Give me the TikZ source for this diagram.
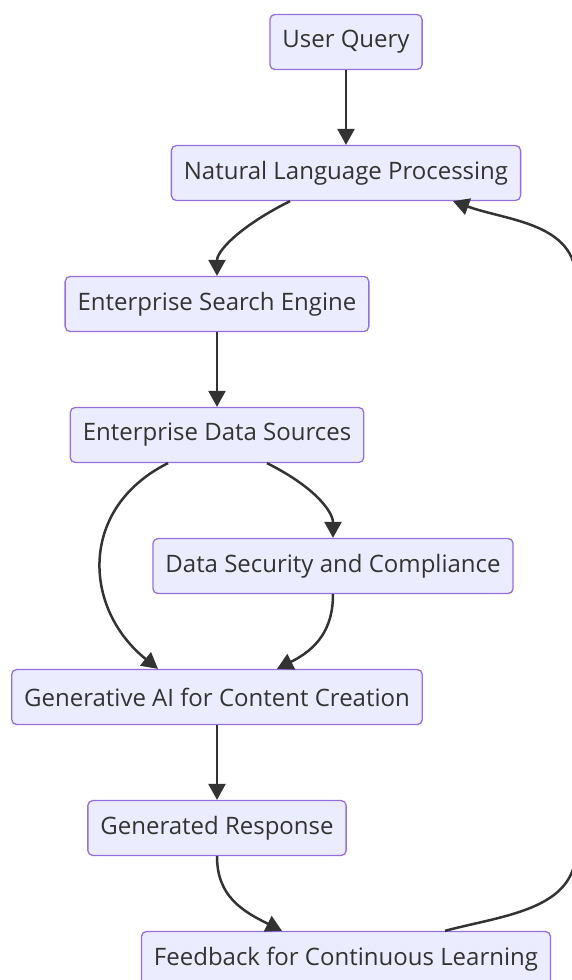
\documentclass[tikz,border=0pt]{standalone}
\usepackage{fontspec}
\setmainfont{Open Sans}
\usepackage{xcolor}
\usepackage{tikz}
\usetikzlibrary{arrows.meta, calc, positioning}

\definecolor{boxfill}{HTML}{ECECFF}
\definecolor{boxdraw}{HTML}{9370DB}
\definecolor{ink}{HTML}{333333}

\begin{document}
\begin{tikzpicture}[
    node distance=131pt,
    block/.style={rectangle, draw=boxdraw, fill=boxfill, line width=1.3pt, rounded corners=5pt, minimum height=55pt, inner xsep=12.5pt, text=ink, font=\fontsize{24}{28}\selectfont},
    line/.style={draw=ink, line width=2.5pt, -{Triangle[length=16pt, width=17pt]}}
]
    \useasboundingbox (0,0) rectangle (571pt,-980pt);

    % Nodes
    \node [block] (query) at (346pt,-42pt) {User Query};
    \node [block, below of=query] (nlp) {Natural Language Processing};
    \node [block, below of=nlp, xshift=-129pt] (search) {Enterprise Search Engine};
    \node [block, below of=search] (sources) {Enterprise Data Sources};
    \node [block, below of=sources, xshift=116pt] (security) {Data Security and Compliance};
    \node [block, below of=sources, node distance=262pt] (genai) {Generative AI for Content Creation};
    \node [block, below of=genai] (response) {Generated Response};
    \node [block, below of=response, xshift=129pt] (feedback) {Feedback for Continuous Learning};

    % Connections
    \draw [line] (query) -- (nlp);
    \draw [line] ([xshift=-56pt]nlp.south) .. controls +(-50pt,-25pt) and +(0,25pt) .. (search.north);
    \draw [line] (search) -- (sources);

    % Data sources split, then join at the generator
    \draw [line] ([xshift=-49pt]sources.south) .. controls +(-90pt,-45pt) and +(-75pt,60pt) .. ([xshift=-59pt]genai.north);
    \draw [line] ([xshift=50pt]sources.south) .. controls +(50pt,-25pt) and +(0,25pt) .. (security.north);
    \draw [line] (security.south) .. controls +(0,-35pt) and +(40pt,20pt) .. ([xshift=60pt]genai.north);

    \draw [line] (genai) -- (response);
    \draw [line] (response.south) .. controls +(0,-40pt) and +(-40pt,20pt) .. ([xshift=-64pt]feedback.north);

    % Feedback loop back to NLP, along the right edge
    \draw [line] ([xshift=99pt]feedback.north) to[out=15, in=-90] ++(131pt,81pt) -- ++(0,570pt) to[out=90, in=-20] ([xshift=107pt]nlp.south);

\end{tikzpicture}
\end{document}
